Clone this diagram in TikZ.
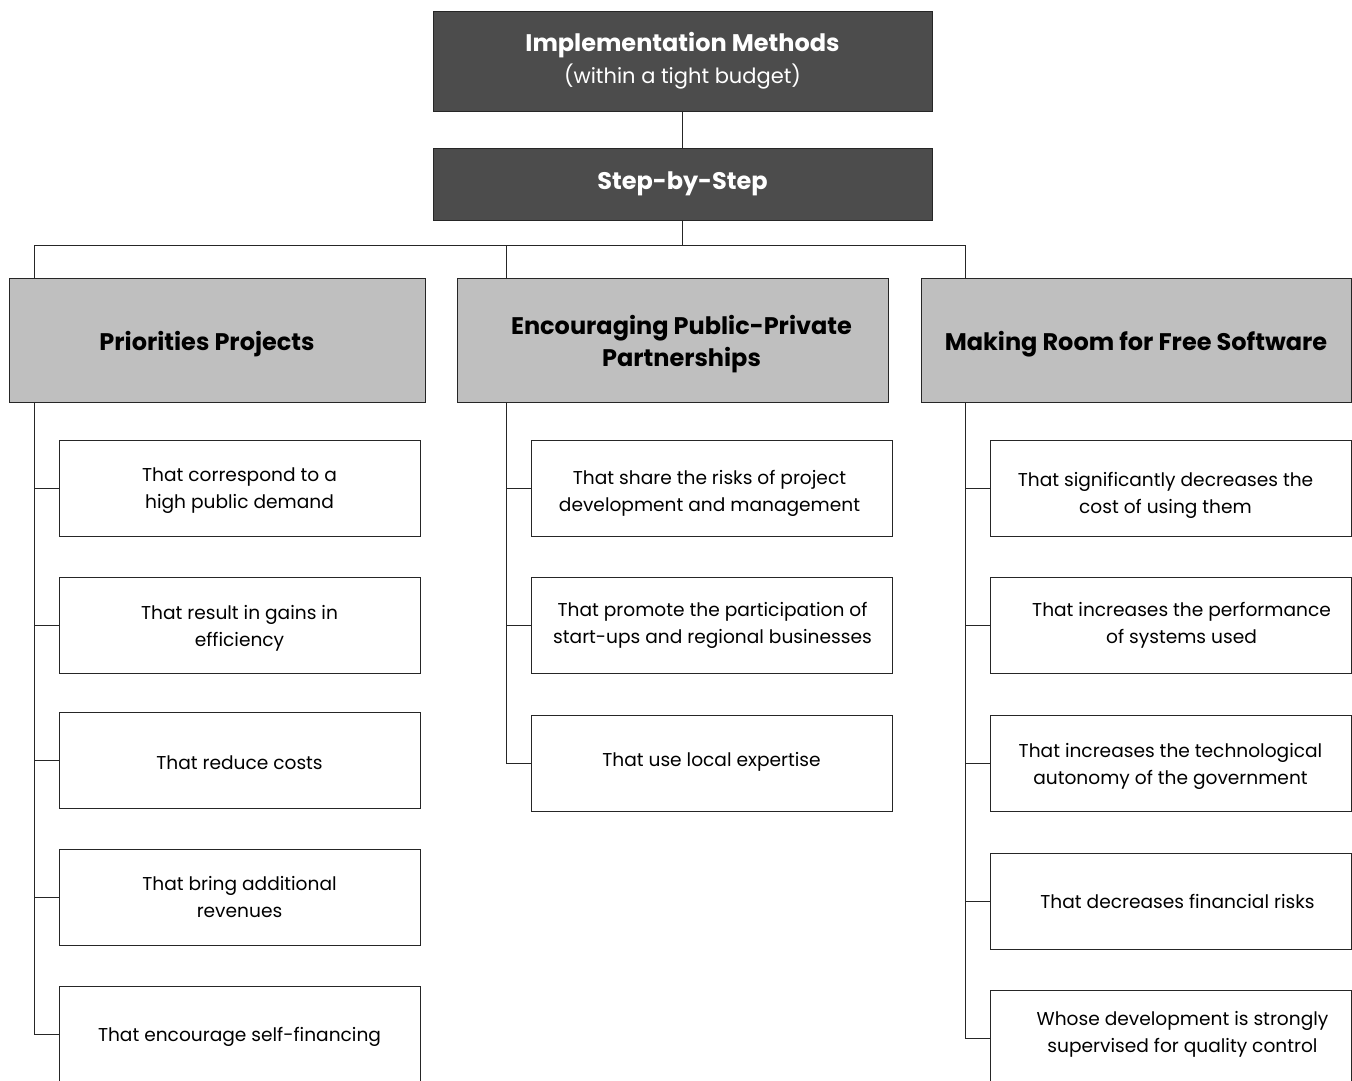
\documentclass[tikz,border=0pt]{standalone}
\usepackage{fontspec}
\setmainfont{Poppins}
\begin{document}
\begin{tikzpicture}[x=1pt,y=-1pt,
  base/.style={draw=black!85, line width=1pt, inner sep=2pt, outer sep=0pt,
               anchor=north west, align=center},
  dark/.style={base, fill=black!70, text=white, minimum width=499pt},
  cat/.style={base, fill=black!25, minimum height=124pt},
  cattext/.style={align=center, inner sep=0pt, yshift=-4pt,
                  font=\fontsize{24}{32}\selectfont\bfseries},
  ctxt/.style 2 args={label={[cattext, xshift=#1]center:{#2}}},
  item/.style={base, fill=white, minimum width=361pt, minimum height=96pt},
  itemtext/.style={align=center, inner sep=0pt, yshift=-3pt,
                   font=\fontsize{18.6}{27}\selectfont},
  txt/.style 2 args={label={[itemtext, #1]center:{#2}}},
  wire/.style={line width=1pt, draw=black!85}]
\useasboundingbox (0,0) rectangle (1352,1080);

% header boxes
\node[dark, minimum height=100pt] (top) at (433,11)
  {{\fontsize{24}{31}\selectfont\bfseries Implementation Methods}\\[5pt]
   {\fontsize{21}{27}\selectfont (within a tight budget)}};
\node[dark, minimum height=72pt, font=\fontsize{24}{31}\selectfont\bfseries]
  (step) at (433,148) {Step-by-Step};

% category boxes
\node[cat, minimum width=416pt, ctxt={-10pt}{Priorities Projects}] (c1) at (9,278) {};
\node[cat, minimum width=431pt, ctxt={9pt}{Encouraging Public-Private\\Partnerships}] (c2) at (457,278) {};
\node[cat, minimum width=430pt, ctxt={0pt}{Making Room for Free Software}] (c3) at (921,278) {};

% first column
\node[item, txt={}{That correspond to a\\high public demand}] (a1) at (59,440) {};
\node[item, txt={}{That result in gains in\\efficiency}] (a2) at (59,577) {};
\node[item, txt={}{That reduce costs}] (a3) at (59,712) {};
\node[item, txt={yshift=3pt}{That bring additional\\revenues}] (a4) at (59,849) {};
\node[item, txt={}{That encourage self-financing}] (a5) at (59,986) {};

% second column
\node[item, txt={xshift=-2pt, yshift=-2pt}{That share the risks of project\\development and management}] (b1) at (531,440) {};
\node[item, txt={xshift=1pt, yshift=3pt}{That promote the participation of\\start-ups and regional businesses}] (b2) at (531,577) {};
\node[item, txt={yshift=4pt}{That use local expertise}] (b3) at (531,715) {};

% third column
\node[item, txt={xshift=-5pt, yshift=-4pt}{That significantly decreases the\\cost of using them}] (d1) at (990,440) {};
\node[item, txt={xshift=11pt, yshift=3pt}{That increases the performance\\of systems used}] (d2) at (990,577) {};
\node[item, txt={}{That increases the technological\\autonomy of the government}] (d3) at (990,715) {};
\node[item, txt={xshift=7pt, yshift=3pt}{That decreases financial risks}] (d4) at (990,853) {};
\node[item, txt={xshift=12pt, yshift=7pt}{Whose development is strongly\\supervised for quality control}] (d5) at (990,990) {};

% bus coordinates
\coordinate (sA) at (34,245);
\coordinate (sB) at (506,245);
\coordinate (sC) at (965,245);

% trunk
\draw[wire] (top.south) -- (step.north);
\draw[wire] (step.south) -- (step.south |- sA);
\draw[wire] (sA |- c1.north) -- (sA) -- (sC) -- (sC |- c3.north);
\draw[wire] (sB) -- (sB |- c2.north);

% spines with branches
\draw[wire] (sA |- c1.south) |- (a5.west);
\foreach \n in {a1,a2,a3,a4} \draw[wire] (sA |- \n.west) -- (\n.west);
\draw[wire] (sB |- c2.south) |- (b3.west);
\foreach \n in {b1,b2} \draw[wire] (sB |- \n.west) -- (\n.west);
\draw[wire] (sC |- c3.south) |- (d5.west);
\foreach \n in {d1,d2,d3,d4} \draw[wire] (sC |- \n.west) -- (\n.west);
\end{tikzpicture}
\end{document}
